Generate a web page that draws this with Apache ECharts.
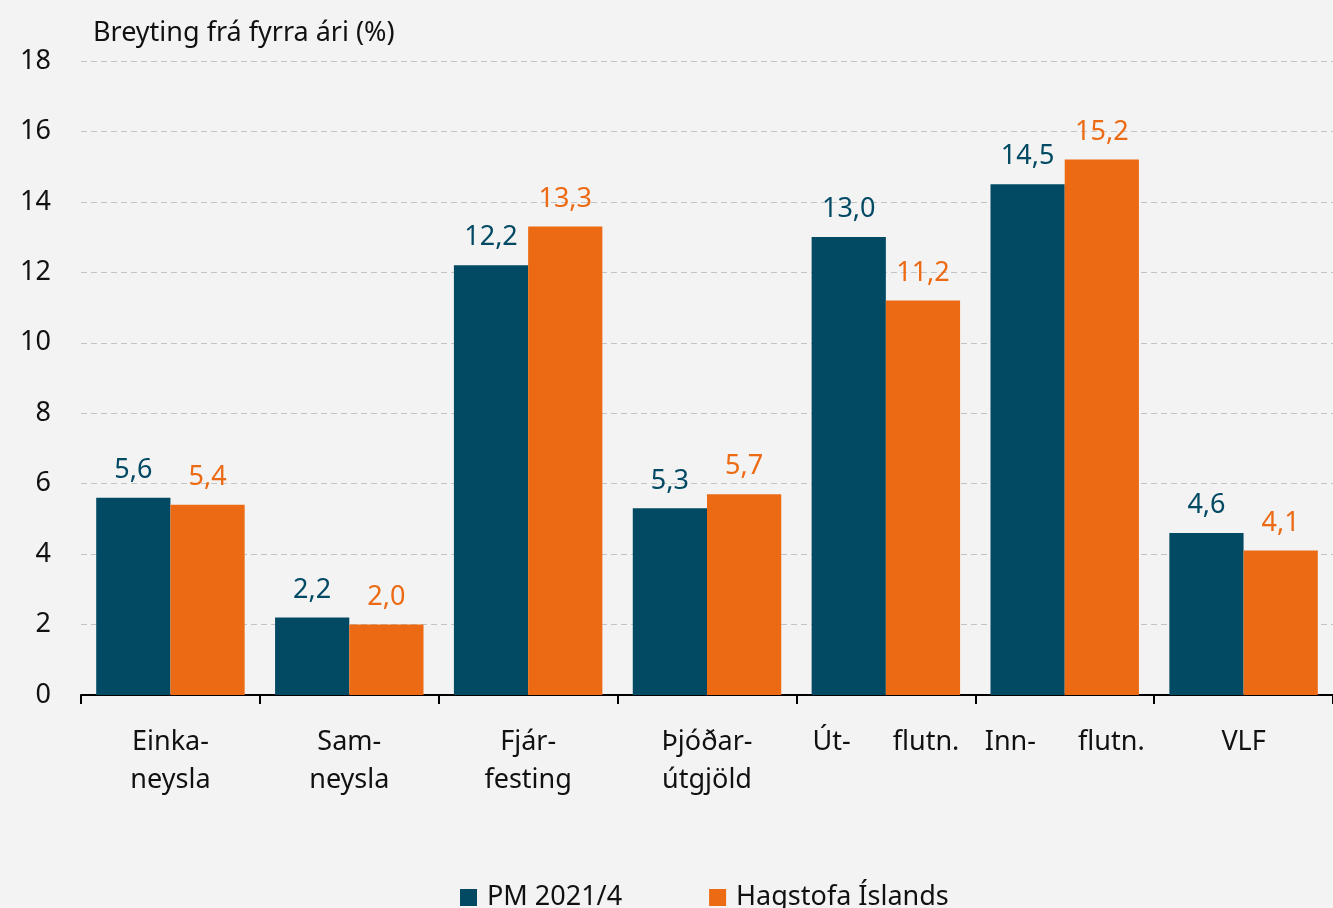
<!DOCTYPE html>
<html><head><meta charset="utf-8">
<script src="https://cdn.jsdelivr.net/npm/echarts@6/dist/echarts.min.js"></script>
<style>html,body{margin:0;padding:0;background:#f3f3f3;}#c{width:1333px;height:908px;}</style>
</head><body><div id="c"></div>
<script>
const categories = ['Einka-\nneysla', 'Sam-\nneysla', 'Fjár-\nfesting', 'Þjóðar-\nútgjöld', 'Út-      flutn.', 'Inn-      flutn.', 'VLF'];
const seriesNames = ['PM 2021/4', 'Hagstofa Íslands'];
const pmValues = [5.6, 2.2, 12.2, 5.3, 13.0, 14.5, 4.6];
const hagstofaValues = [5.4, 2.0, 13.3, 5.7, 11.2, 15.2, 4.1];
const yTicks = [0, 2, 4, 6, 8, 10, 12, 14, 16, 18];
const colors = ['#024a64', '#ec6a13'];
const FONT = 'Noto Sans';
const FS = 27;

const chart = echarts.init(document.getElementById('c'), null, {renderer: 'canvas'});
const fmt = p => p.value.toFixed(1).replace('.', ',');
chart.setOption({
  backgroundColor: '#f3f3f3',
  animation: false,
  textStyle: {fontFamily: FONT},
  title: {text: 'Breyting frá fyrra ári (%)', left: 88, top: 15,
    textStyle: {fontFamily: FONT, fontSize: FS, fontWeight: 'normal', color: '#111'}},
  grid: {left: 81, top: 61, width: 1257, height: 634, containLabel: false},
  legend: {bottom: -8, left: 455, itemWidth: 17, itemHeight: 17, itemGap: 87, icon: 'rect',
    textStyle: {fontFamily: FONT, fontSize: FS, color: '#111', padding: [0, 0, 0, 5]}, data: seriesNames},
  xAxis: {type: 'category', data: categories,
    axisLine: {lineStyle: {color: '#000', width: 2}},
    axisTick: {show: true, length: 9, lineStyle: {color: '#000', width: 2}},
    axisLabel: {fontFamily: FONT, fontSize: FS, color: '#111', lineHeight: 38, margin: 28, interval: 0}},
  yAxis: {type: 'value', min: yTicks[0], max: yTicks[yTicks.length - 1], interval: 2,
    axisLine: {show: false}, axisTick: {show: false},
    axisLabel: {fontFamily: FONT, fontSize: FS, color: '#111', margin: 30},
    splitLine: {lineStyle: {color: '#c4c4c4', type: [6, 4], width: 1}}},
  series: [
    {name: seriesNames[0], type: 'bar', data: pmValues, barWidth: '41.5%', barGap: '0%',
      itemStyle: {color: colors[0]},
      label: {show: true, position: 'top', distance: 14, formatter: fmt, fontFamily: FONT, fontSize: FS, color: colors[0]}},
    {name: seriesNames[1], type: 'bar', data: hagstofaValues, barWidth: '41.5%', barGap: '0%',
      itemStyle: {color: colors[1]},
      label: {show: true, position: 'top', distance: 14, formatter: fmt, fontFamily: FONT, fontSize: FS, color: colors[1]}}
  ]
});
</script></body></html>
